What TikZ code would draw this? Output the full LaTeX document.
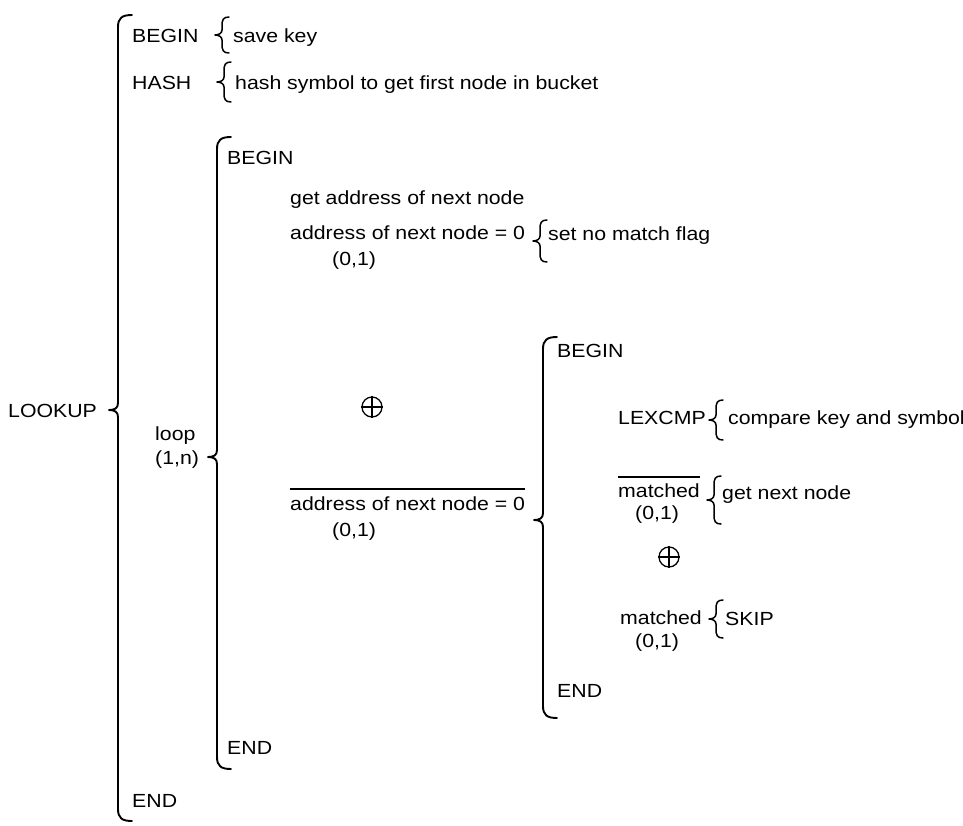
\documentclass[tikz,border=0pt]{standalone}
\usepackage{fontspec}
\setmainfont{Liberation Sans}[FakeStretch=1.12]
\tikzset{
  txt/.style={anchor=base west, inner sep=0pt, font=\fontsize{19}{22}\selectfont},
  brk/.style={line width=1.9pt, line cap=round, line join=round},
  sbr/.style={line width=1.5pt, line cap=round, line join=round},
  ovl/.style={line width=1.4pt},
  oplus/.style={circle, draw, line width=1.3pt, minimum size=20pt, inner sep=0pt}
}
% big bracket: x, ytop, ymid, ybot, cusp depth
\newcommand\BigBr[5]{%
  \draw[brk] ({#1+14},#2) .. controls ({#1+4},#2) and (#1,{#2+3}) .. (#1,{#2+12})
    -- (#1,{#3-7}) .. controls (#1,{#3-2}) and ({#1-3},#3) .. ({#1-#5},#3)
    .. controls ({#1-3},#3) and (#1,{#3+2}) .. (#1,{#3+7})
    -- (#1,{#4-12}) .. controls (#1,{#4-3}) and ({#1+4},#4) .. ({#1+14},#4);}
% small brace: x, ymid, height
\newcommand\SmBr[3]{%
  \draw[sbr] ({#1+7},{#2-#3/2}) .. controls ({#1+1},{#2-#3/2}) and (#1,{#2-#3/2+3}) .. (#1,{#2-#3/2+9})
    -- (#1,{#2-5}) .. controls (#1,{#2-2}) and ({#1-3},#2) .. ({#1-7},#2)
    .. controls ({#1-3},#2) and (#1,{#2+2}) .. (#1,{#2+5})
    -- (#1,{#2+#3/2-9}) .. controls (#1,{#2+#3/2-3}) and ({#1+1},{#2+#3/2}) .. ({#1+7},{#2+#3/2});}
\begin{document}
\begin{tikzpicture}[x=1pt,y=-1pt]
\useasboundingbox (0,0) rectangle (963,825);
% outer LOOKUP
\node[txt] (lookup) at (8,417) {LOOKUP};
\BigBr{118}{15}{410}{821}{9}
\node[txt] (begin1) at (132,42) {BEGIN};
\SmBr{222}{35}{36}
\node[txt] (savekey) at (233,42) {save key};
\node[txt] (hash) at (132,89) {HASH};
\SmBr{224}{82}{40}
\node[txt] (hashtxt) at (235,89) {hash symbol to get first node in bucket};
% loop
\node[txt] (loop) at (155,440) {loop};
\node[txt] (loopn) at (155,464) {(1,n)};
\BigBr{217}{137}{457}{769}{9}
\node[txt] (begin2) at (227,164) {BEGIN};
\node[txt] (getaddr) at (290,204) {get address of next node};
\node[txt] (addr0) at (290,239) {address of next node = 0};
\node[txt] (addr01) at (332,265) {(0,1)};
\SmBr{540}{241}{42}
\node[txt] (nomatch) at (548,240) {set no match flag};
\node[oplus] (or1) at (372,407) {};
\draw[line width=1.1pt] (or1.north) -- (or1.south) (or1.west) -- (or1.east);
\node[txt] (naddr0) at (290,510) {address of next node = 0};
\draw[ovl] ([yshift=7pt]naddr0.north west) -- ([yshift=7pt]naddr0.north east);
\node[txt] (naddr01) at (332,536) {(0,1)};
% inner BEGIN/END
\BigBr{543}{337}{520}{718}{9}
\node[txt] (begin3) at (557,357) {BEGIN};
\node[txt] (lexcmp) at (618,424) {LEXCMP};
\SmBr{716}{420}{40}
\node[txt] (compare) at (728,424) {compare key and symbol};
\node[txt] (nmatched) at (618,497) {matched};
\draw[ovl] ([yshift=6pt]nmatched.north west) -- ([yshift=6pt]nmatched.north east);
\node[txt] (nm01) at (635,519) {(0,1)};
\SmBr{714}{500}{48}
\node[txt] (getnext) at (722,499) {get next node};
\node[oplus] (or2) at (669,557) {};
\draw[line width=1.1pt] (or2.north) -- (or2.south) (or2.west) -- (or2.east);
\node[txt] (matched) at (620,624) {matched};
\node[txt] (m01) at (635,647) {(0,1)};
\SmBr{716}{619}{38}
\node[txt] (skip) at (725,625) {SKIP};
\node[txt] (end3) at (557,697) {END};
\node[txt] (end2) at (227,754) {END};
\node[txt] (end1) at (132,807) {END};
\end{tikzpicture}
\end{document}
